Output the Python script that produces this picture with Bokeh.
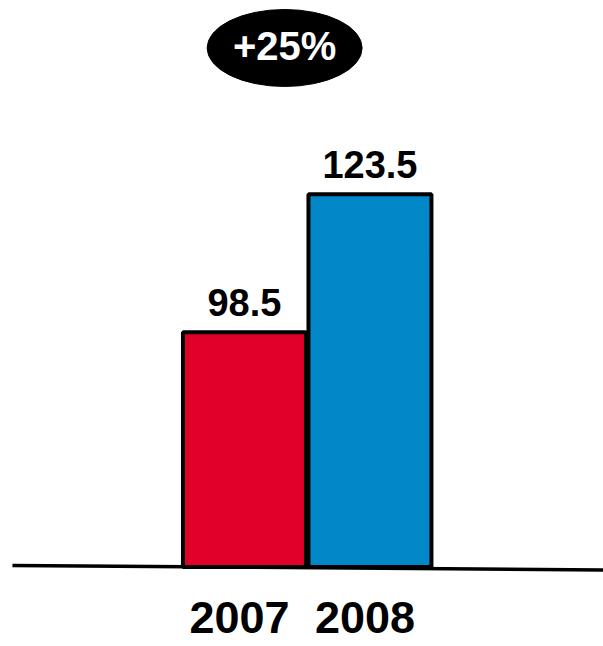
from bokeh.plotting import figure
from bokeh.models import Range1d, ColumnDataSource
from bokeh.core.properties import value
from bokeh.embed import file_html
from bokeh.resources import INLINE

# ---- data ----
categories = ["2007", "2008"]
values = [98.5, 123.5]
colors = ["#E0002A", "#0288C9"]
value_labels = ["98.5", "123.5"]

growth = (values[1] - values[0]) / values[0] * 100
growth_label = f"+{growth:.0f}%"

BASE = 56.0  # value at which the bars start (axis is not zero-based)

FONT = value("Liberation Sans")

p = figure(width=603, height=646, output_backend="svg", toolbar_location=None,
           x_range=Range1d(-1.944, 2.861), y_range=Range1d(41.6, 158.6),
           min_border=0)
p.axis.visible = False
p.grid.visible = False
p.outline_line_color = None
p.background_fill_color = "white"
p.border_fill_color = "white"

xs = list(range(len(categories)))
src = ColumnDataSource(dict(x=xs, top=values, color=colors, label=value_labels,
                            cat=categories))

# baseline (slightly slanted, as in the original)
p.segment(x0=[-1.849], y0=[56.29], x1=[2.87], y1=[55.45], line_color="black", line_width=3.5)

p.vbar(x="x", top="top", bottom=BASE, width=0.98, source=src,
       fill_color="color", line_color="black", line_width=4)

p.text(x="x", y="top", text="label", source=src, text_font=FONT,
       text_font_style="bold", text_font_size="38px", text_align="center",
       text_baseline="alphabetic", y_offset=-30, text_color="black")

p.text(x="x", y=BASE, text="cat", source=src, text_font=FONT,
       text_font_style="bold", text_font_size="45px", text_align="center",
       text_baseline="alphabetic", y_offset=51, x_offset=-5, text_color="black")

# growth bubble
p.ellipse(x=[0.32], y=[150.0], width=155, height=77, width_units="screen",
          height_units="screen", fill_color="black", line_color="black")
p.text(x=[0.32], y=[150.0], text=[growth_label], text_font=FONT,
       text_font_style="bold", text_font_size="40px", text_align="center",
       text_baseline="middle", text_color="white", y_offset=-2)

open("out.html", "w").write(file_html(p, INLINE))
